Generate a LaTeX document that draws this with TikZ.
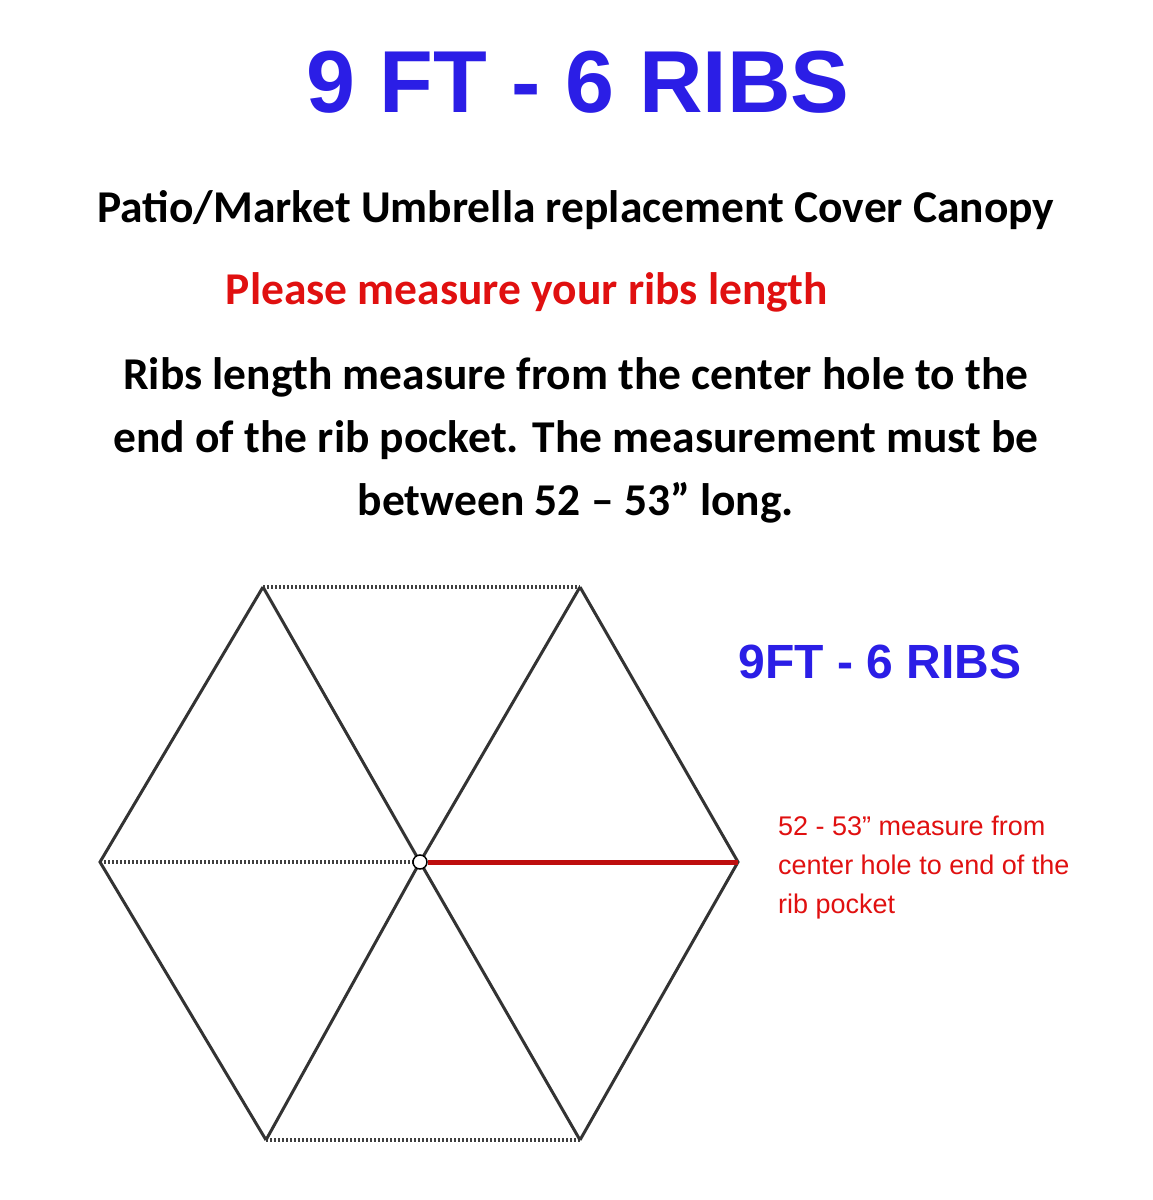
\documentclass[tikz,border=0pt]{standalone}
\usepackage{fontspec}
\setmainfont{Carlito}
\newfontfamily\arial{Liberation Sans}
\definecolor{tblue}{HTML}{2B1EE6}
\definecolor{tred}{HTML}{E01010}
\begin{document}
\begin{tikzpicture}[x=1pt,y=-1pt,
  rib/.style={line width=3pt,black!80},
  dotrib/.style={line width=3.5pt,black!75,dash pattern=on 2pt off 2pt}]
\useasboundingbox (0,0) rectangle (1152,1200);
\node (title) at (578,82) {\arial\bfseries\fontsize{88}{96}\selectfont\color{tblue}9 FT - 6 RIBS};
\node (sub) at (576,210) {\bfseries\fontsize{45.5}{50}\selectfont Patio/Market Umbrella replacement Cover Canopy};
\node (please) at (527,292) {\bfseries\fontsize{45.5}{50}\selectfont\color{tred}Please measure your ribs length};
\node[align=center,font=\bfseries\fontsize{45.5}{63}\selectfont] (para) at (576,440) {Ribs length measure from the center hole to the\\end of the rib pocket. The measurement must be\\between 52 -- 53” long.};
\coordinate (tl) at (263,587); \coordinate (tr) at (580,587);
\coordinate (r) at (738,862); \coordinate (br) at (580,1140);
\coordinate (bl) at (266,1140); \coordinate (l) at (100,862);
\coordinate (c) at (420,862);
\draw[dotrib] (tl) -- (tr); \draw[dotrib] (bl) -- (br); \draw[dotrib] (l) -- (c);
\draw[rib] (tr) -- (r) -- (br); \draw[rib] (bl) -- (l) -- (tl);
\draw[rib] (tl) -- (c) -- (br); \draw[rib] (tr) -- (c) -- (bl);
\draw[line width=5pt,tred!85!black] (428,862) -- (r);
\node[circle,draw,line width=1.5pt,fill=white,inner sep=0pt,minimum size=14pt] (hole) at (c) {};
\node (lbl) at (880,662) {\arial\bfseries\fontsize{48}{54}\selectfont\color{tblue}9FT - 6 RIBS};
\node[anchor=north west,align=left,inner sep=0pt,font=\arial\fontsize{27}{39}\selectfont\color{tred}] (note) at (778,816) {52 - 53” measure from\\center hole to end of the\\rib pocket};
\end{tikzpicture}
\end{document}
